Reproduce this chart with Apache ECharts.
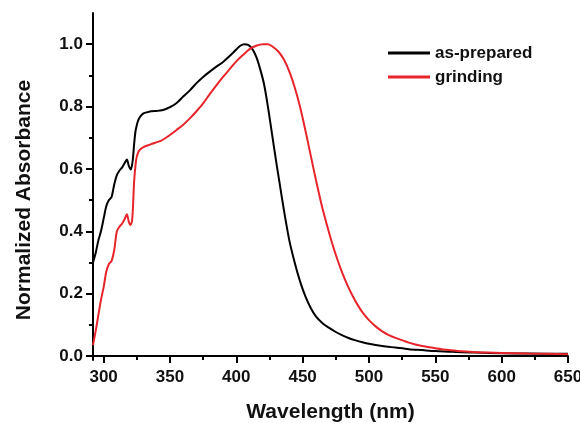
<!DOCTYPE html>
<html>
<head>
<meta charset="utf-8">
<script src="https://cdn.jsdelivr.net/npm/echarts@6/dist/echarts.min.js"></script>
<style>
html,body{margin:0;padding:0;background:#fff;}
#chart{width:580px;height:423px;}
</style>
</head>
<body>
<div id="chart"></div>
<script>
// as-prepared (black)
const asPreparedX = [292,294,296,298,300,302,304,306,308,310,312,314,316,317.5,319,320.5,322,323,324,325,326,328,330,333,336,340,344,347,350,353,356,360,365,370,375,380,385,390,395,400,403,406,409,412,415,418,421,424,427,430,433,436,440,444,448,452,456,460,465,470,475,480,485,490,495,500,510,520,530,540,550,560,570,580,600,620,650];
const asPreparedY = [0.30,0.33,0.37,0.40,0.44,0.48,0.50,0.51,0.55,0.58,0.595,0.605,0.62,0.63,0.61,0.598,0.63,0.68,0.72,0.74,0.755,0.77,0.778,0.782,0.785,0.786,0.788,0.792,0.798,0.805,0.815,0.832,0.852,0.875,0.895,0.912,0.928,0.943,0.962,0.983,0.995,1.0,0.998,0.985,0.96,0.92,0.87,0.795,0.71,0.625,0.545,0.465,0.37,0.30,0.24,0.192,0.155,0.127,0.105,0.09,0.077,0.066,0.057,0.05,0.044,0.039,0.032,0.027,0.022,0.019,0.016,0.014,0.012,0.011,0.009,0.008,0.007];
// grinding (red)
const grindingX = [292,294,296,298,300,302,304,306,308,310,312,314,316,317.5,319,320,321.5,323,324,325,327,330,335,339,343,347,351,355,360,365,370,375,380,385,390,395,400,405,410,415,420,424,428,432,436,440,444,448,452,456,460,464,468,472,476,480,484,488,492,496,500,505,510,515,520,530,540,550,560,570,580,590,600,620,650];
const grindingY = [0.035,0.08,0.13,0.18,0.22,0.27,0.295,0.305,0.34,0.40,0.415,0.425,0.44,0.455,0.43,0.42,0.435,0.56,0.61,0.64,0.66,0.67,0.678,0.684,0.69,0.70,0.712,0.725,0.742,0.762,0.785,0.81,0.84,0.868,0.895,0.92,0.945,0.965,0.984,0.995,1.0,1.0,0.99,0.975,0.95,0.912,0.862,0.80,0.725,0.645,0.565,0.49,0.425,0.365,0.312,0.265,0.225,0.19,0.16,0.135,0.115,0.095,0.079,0.067,0.058,0.043,0.032,0.025,0.019,0.015,0.012,0.011,0.010,0.008,0.006];

const seriesNames = ['as-prepared','grinding'];
const xMajorTicks = [300,350,400,450,500,550,600,650];
const xMinorTicks = [325,375,425,475,525,575,625];
const yMajorTicks = [0,0.2,0.4,0.6,0.8,1.0];
const yMinorTicks = [0.1,0.3,0.5,0.7,0.9];
const xTitle = 'Wavelength (nm)';
const yTitle = 'Normalized Absorbance';

const zip = (xs, ys) => xs.map((x, i) => [x, ys[i]]);

const chart = echarts.init(document.getElementById('chart'), null, {renderer:'canvas'});
const FONT = 'Liberation Sans, Arial, sans-serif';
const axisLineStyle = {color:'#000', width:2};

const option = {
  animation:false,
  backgroundColor:'#fff',
  grid:{left:93, right:12, top:13, bottom:63, containLabel:false, outerBoundsMode:'none'},
  legend:{
    orient:'vertical', left:383, top:38,
    itemWidth:42, itemHeight:3, itemGap:4,
    icon:'rect',
    textStyle:{fontFamily:FONT, fontWeight:'bold', fontSize:17, color:'#111', lineHeight:20},
    data:seriesNames
  },
  graphic:[{
    type:'text', x:24, y:200, rotation:Math.PI/2,
    style:{text:yTitle, font:'bold 21px ' + FONT, fill:'#111', align:'center', verticalAlign:'middle'}
  }],
  xAxis:[{
    type:'value', min:292, max:650, position:'bottom',
    axisLine:{lineStyle:axisLineStyle},
    axisTick:{customValues:xMajorTicks, length:7, lineStyle:{width:2,color:'#000'}},
    axisLabel:{customValues:xMajorTicks, fontFamily:FONT, fontWeight:'bold', fontSize:17, color:'#111', margin:9},
    splitLine:{show:false},
    name:xTitle, nameLocation:'middle', nameGap:42,
    nameTextStyle:{fontFamily:FONT, fontWeight:'bold', fontSize:21, color:'#111'}
  },{
    type:'value', min:292, max:650, position:'bottom',
    axisLine:{show:false},
    axisTick:{customValues:xMinorTicks, length:4, lineStyle:{width:2,color:'#000'}},
    axisLabel:{show:false},
    splitLine:{show:false}
  }],
  yAxis:[{
    type:'value', min:-0.0128, max:1.1, position:'left',
    axisLine:{show:true, lineStyle:axisLineStyle},
    axisTick:{show:true, customValues:yMajorTicks, length:7, lineStyle:{width:2,color:'#000'}},
    axisLabel:{customValues:yMajorTicks, formatter:v=>v.toFixed(1), fontFamily:FONT, fontWeight:'bold', fontSize:17, color:'#111', margin:10},
    splitLine:{show:false}
  },{
    type:'value', min:-0.0128, max:1.1, position:'left',
    axisLine:{show:false},
    axisTick:{show:true, customValues:yMinorTicks, length:4, lineStyle:{width:2,color:'#000'}},
    axisLabel:{show:false},
    splitLine:{show:false}
  }],
  series:[{
    name:seriesNames[0], type:'line', xAxisIndex:0, yAxisIndex:0,
    data:zip(asPreparedX, asPreparedY), showSymbol:false, smooth:0.3,
    lineStyle:{color:'#000', width:2}, itemStyle:{color:'#000'}
  },{
    name:seriesNames[1], type:'line', xAxisIndex:0, yAxisIndex:0,
    data:zip(grindingX, grindingY), showSymbol:false, smooth:0.3,
    lineStyle:{color:'#e8242b', width:2}, itemStyle:{color:'#e8242b'}
  }]
};
chart.setOption(option);
</script>
</body>
</html>
